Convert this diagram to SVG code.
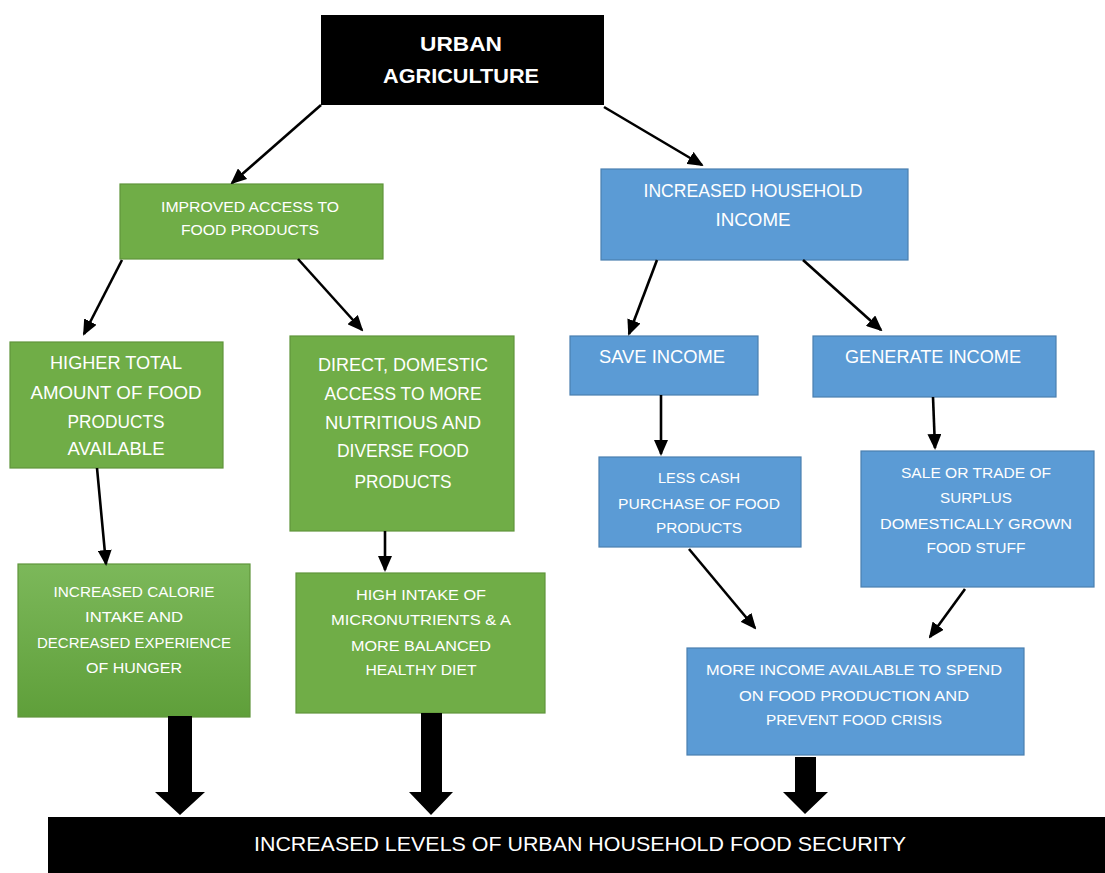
<svg xmlns="http://www.w3.org/2000/svg" width="1105" height="873" viewBox="0 0 1105 873">
<defs>
<style>
.g{fill:#70ad47;stroke:#5f953b;stroke-width:1.2}
.b{fill:#5b9bd5;stroke:#4a7fb0;stroke-width:1.2}
.k{fill:#000}
text{font-family:"Liberation Sans",Arial,sans-serif;fill:#fff;text-anchor:middle;dominant-baseline:central}
.s{font-size:15px}
.m{font-size:18px}
.t{font-size:21px;font-weight:bold}
.c line{stroke:#000;stroke-width:2.6;marker-end:url(#ah)}
</style>
<marker id="ah" markerUnits="userSpaceOnUse" markerWidth="16" markerHeight="14" refX="14" refY="7" orient="auto">
<path d="M0,0 L16,7 L0,14 Z" fill="#000"/>
</marker>
<linearGradient id="gg" x1="0" y1="0" x2="0" y2="1">
<stop offset="0" stop-color="#7cb85a"/>
<stop offset="1" stop-color="#5f9f3a"/>
</linearGradient>
</defs>
<rect width="1105" height="873" fill="#fff"/>

<g id="urban">
<rect class="k" x="321" y="15" width="283" height="90"/>
<text class="t" x="461" y="43" textLength="82" lengthAdjust="spacingAndGlyphs">URBAN</text>
<text class="t" x="461" y="75" textLength="156" lengthAdjust="spacingAndGlyphs">AGRICULTURE</text>
</g>

<g id="access">
<rect class="g" x="120" y="184" width="263" height="75"/>
<text class="s" x="250" y="206" textLength="178" lengthAdjust="spacingAndGlyphs">IMPROVED ACCESS TO</text>
<text class="s" x="250" y="229" textLength="138" lengthAdjust="spacingAndGlyphs">FOOD PRODUCTS</text>
</g>

<g id="income">
<rect class="b" x="601" y="169" width="307" height="91"/>
<text class="m" x="753" y="191" textLength="219" lengthAdjust="spacingAndGlyphs">INCREASED HOUSEHOLD</text>
<text class="m" x="753" y="220" textLength="75" lengthAdjust="spacingAndGlyphs">INCOME</text>
</g>

<g id="higher">
<rect class="g" x="10" y="342" width="213" height="126"/>
<text class="m" x="116" y="363" textLength="132" lengthAdjust="spacingAndGlyphs">HIGHER TOTAL</text>
<text class="m" x="116" y="393" textLength="171" lengthAdjust="spacingAndGlyphs">AMOUNT OF FOOD</text>
<text class="m" x="116" y="422" textLength="97" lengthAdjust="spacingAndGlyphs">PRODUCTS</text>
<text class="m" x="116" y="449" textLength="97" lengthAdjust="spacingAndGlyphs">AVAILABLE</text>
</g>

<g id="direct">
<rect class="g" x="290" y="336" width="224" height="195"/>
<text class="m" x="403" y="365" textLength="170" lengthAdjust="spacingAndGlyphs">DIRECT, DOMESTIC</text>
<text class="m" x="403" y="394" textLength="157" lengthAdjust="spacingAndGlyphs">ACCESS TO MORE</text>
<text class="m" x="403" y="423" textLength="156" lengthAdjust="spacingAndGlyphs">NUTRITIOUS AND</text>
<text class="m" x="403" y="451" textLength="132" lengthAdjust="spacingAndGlyphs">DIVERSE FOOD</text>
<text class="m" x="403" y="482" textLength="97" lengthAdjust="spacingAndGlyphs">PRODUCTS</text>
</g>

<g id="calorie">
<rect x="18" y="564" width="232" height="153" fill="url(#gg)" stroke="#5f953b" stroke-width="1.2"/>
<text class="s" x="134" y="591" textLength="161" lengthAdjust="spacingAndGlyphs">INCREASED CALORIE</text>
<text class="s" x="134" y="616" textLength="98" lengthAdjust="spacingAndGlyphs">INTAKE AND</text>
<text class="s" x="134" y="642" textLength="194" lengthAdjust="spacingAndGlyphs">DECREASED EXPERIENCE</text>
<text class="s" x="134" y="667" textLength="96" lengthAdjust="spacingAndGlyphs">OF HUNGER</text>
</g>

<g id="intake">
<rect class="g" x="296" y="573" width="249" height="140"/>
<text class="s" x="421" y="594" textLength="130" lengthAdjust="spacingAndGlyphs">HIGH INTAKE OF</text>
<text class="s" x="421" y="619" textLength="180" lengthAdjust="spacingAndGlyphs">MICRONUTRIENTS &amp; A</text>
<text class="s" x="421" y="645" textLength="140" lengthAdjust="spacingAndGlyphs">MORE BALANCED</text>
<text class="s" x="421" y="669" textLength="111" lengthAdjust="spacingAndGlyphs">HEALTHY DIET</text>
</g>

<g id="save">
<rect class="b" x="570" y="336" width="188" height="59"/>
<text class="m" x="662" y="357" textLength="126" lengthAdjust="spacingAndGlyphs">SAVE INCOME</text>
</g>

<g id="generate">
<rect class="b" x="813" y="336" width="243" height="61"/>
<text class="m" x="933" y="357" textLength="176" lengthAdjust="spacingAndGlyphs">GENERATE INCOME</text>
</g>

<g id="lesscash">
<rect class="b" x="599" y="457" width="202" height="90"/>
<text class="s" x="699" y="477" textLength="82" lengthAdjust="spacingAndGlyphs">LESS CASH</text>
<text class="s" x="699" y="503" textLength="162" lengthAdjust="spacingAndGlyphs">PURCHASE OF FOOD</text>
<text class="s" x="699" y="527" textLength="86" lengthAdjust="spacingAndGlyphs">PRODUCTS</text>
</g>

<g id="sale">
<rect class="b" x="861" y="451" width="233" height="136"/>
<text class="s" x="976" y="472" textLength="150" lengthAdjust="spacingAndGlyphs">SALE OR TRADE OF</text>
<text class="s" x="976" y="497" textLength="72" lengthAdjust="spacingAndGlyphs">SURPLUS</text>
<text class="s" x="976" y="523" textLength="192" lengthAdjust="spacingAndGlyphs">DOMESTICALLY GROWN</text>
<text class="s" x="976" y="547" textLength="99" lengthAdjust="spacingAndGlyphs">FOOD STUFF</text>
</g>

<g id="moreincome">
<rect class="b" x="687" y="648" width="337" height="107"/>
<text class="s" x="854" y="669" textLength="296" lengthAdjust="spacingAndGlyphs">MORE INCOME AVAILABLE TO SPEND</text>
<text class="s" x="854" y="695" textLength="230" lengthAdjust="spacingAndGlyphs">ON FOOD PRODUCTION AND</text>
<text class="s" x="854" y="719" textLength="176" lengthAdjust="spacingAndGlyphs">PREVENT FOOD CRISIS</text>
</g>

<g id="security">
<rect class="k" x="48" y="817" width="1057" height="56"/>
<text x="580" y="843" style="font-size:21px" textLength="652" lengthAdjust="spacingAndGlyphs">INCREASED LEVELS OF URBAN HOUSEHOLD FOOD SECURITY</text>
</g>

<g id="connectors" class="c">
<line x1="321" y1="105" x2="232" y2="183"/>
<line x1="604" y1="107" x2="702" y2="165"/>
<line x1="122" y1="260" x2="84" y2="334"/>
<line x1="298" y1="259" x2="362" y2="330"/>
<line x1="657" y1="260" x2="629" y2="334"/>
<line x1="803" y1="260" x2="881" y2="330"/>
<line x1="97" y1="468" x2="106" y2="564"/>
<line x1="385" y1="531" x2="385" y2="570"/>
<line x1="661" y1="395" x2="661" y2="454"/>
<line x1="933" y1="397" x2="935" y2="448"/>
<line x1="689" y1="549" x2="755" y2="628"/>
<line x1="965" y1="589" x2="930" y2="637"/>
<path d="M168,716 H192 V792 H205 L180,815 L155,792 H168 Z" fill="#000"/>
<path d="M421,713 H442 V792 H453 L431,815 L409,792 H421 Z" fill="#000"/>
<path d="M795,757 H816 V792 H828 L805,814 L783,792 H795 Z" fill="#000"/>
</g>
</svg>
